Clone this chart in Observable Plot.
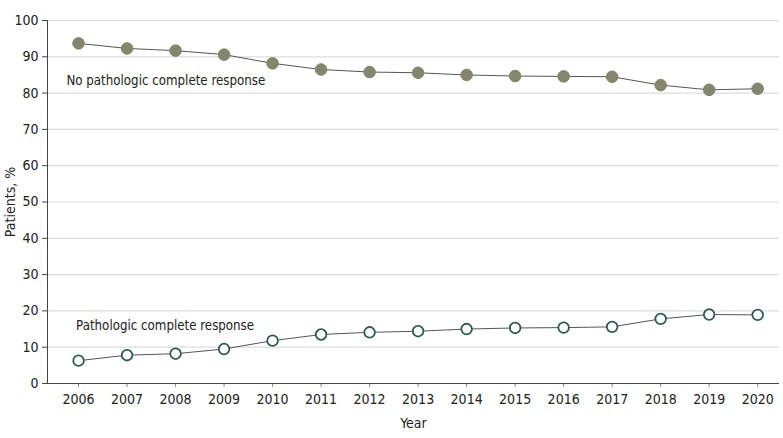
<!DOCTYPE html>
<html><head><meta charset="utf-8">
<script src="https://cdn.jsdelivr.net/npm/d3@7"></script>
<script src="https://cdn.jsdelivr.net/npm/@observablehq/plot@0.6"></script>
<style>
body{margin:0;background:#fff;}
#chart svg{font-family:"Liberation Sans Narrow","DejaVu Sans Condensed",sans-serif;}
</style></head>
<body><div id="chart"></div>
<script>
const years = [2006,2007,2008,2009,2010,2011,2012,2013,2014,2015,2016,2017,2018,2019,2020];
const noPCR = [93.7,92.3,91.7,90.6,88.2,86.5,85.8,85.6,85.0,84.7,84.6,84.5,82.2,80.9,81.2];
const pCR   = [6.3,7.8,8.2,9.5,11.8,13.5,14.1,14.4,15.0,15.3,15.4,15.6,17.8,19.0,18.9];
const seriesNames = ["No pathologic complete response","Pathologic complete response"];
const yTicks = [0,10,20,30,40,50,60,70,80,90,100];

const upper = years.map((y,i)=>({year:y, value:noPCR[i]}));
const lower = years.map((y,i)=>({year:y, value:pCR[i]}));

const chart = Plot.plot({
  width:783, height:438,
  marginLeft:47, marginRight:4, marginTop:20, marginBottom:55,
  style:{fontSize:"14px", color:"#222"},
  x:{type:"linear", domain:[2005.36,2020.45]},
  y:{domain:[0,100]},
  marks:[
    Plot.gridY(yTicks.filter(d=>d>0), {stroke:"#dcdcdc", strokeOpacity:1, strokeWidth:1.2}),
    Plot.axisX({ticks:years, tickFormat:d=>String(d), label:"Year", labelAnchor:"center", labelOffset:44, tickSize:4, tickPadding:7, labelArrow:"none", stroke:"#888"}),
    Plot.axisY({ticks:yTicks, label:"Patients, %", labelAnchor:"center", labelOffset:42, tickSize:5, tickPadding:4, labelArrow:"none", stroke:"#444"}),
    Plot.ruleX([2005.36], {y1:0, y2:100, stroke:"#444"}),
    Plot.ruleY([0], {stroke:"#444"}),
    Plot.line(upper, {x:"year", y:"value", stroke:"#555", strokeWidth:1}),
    Plot.line(lower, {x:"year", y:"value", stroke:"#555", strokeWidth:1}),
    Plot.dot(upper, {x:"year", y:"value", r:5.8, fill:"#85846c", stroke:"#85846c", strokeWidth:1}),
    Plot.dot(lower, {x:"year", y:"value", r:5.3, fill:"#fff", stroke:"#2c5b57", strokeWidth:1.8}),
    Plot.text([seriesNames[0]], {x:2005.75, y:83.5, text:d=>d, textAnchor:"start", fontSize:13.2, fill:"#222"}),
    Plot.text([seriesNames[1]], {x:2005.95, y:15.9, text:d=>d, textAnchor:"start", fontSize:13.2, fill:"#222"})
  ]
});
document.getElementById("chart").appendChild(chart);
</script></body></html>
